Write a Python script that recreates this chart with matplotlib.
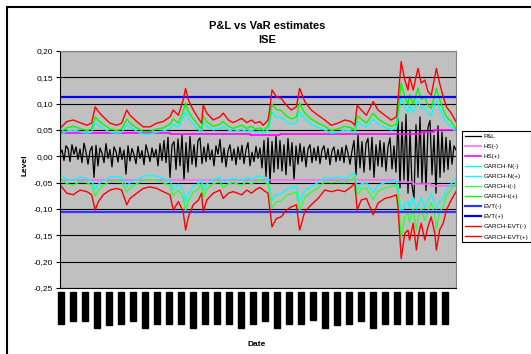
import numpy as np
import matplotlib.pyplot as plt
from matplotlib.patches import Rectangle
from matplotlib.ticker import FuncFormatter

plt.rcParams['font.family'] = ['Liberation Sans', 'DejaVu Sans']

# daily P&L, one value every 5 trading days (index 0..990)
pnl = [0.005, 0.012, -0.008, 0.020, 0.015, -0.010, 0.022, 0.004, 0.018, -0.006,
       0.014, -0.012, 0.025, 0.008, -0.015, 0.010, 0.019, -0.040, 0.021, -0.018,
       0.016, 0.006, -0.012, 0.024, -0.004, 0.013, -0.020, 0.018, 0.009, -0.011,
       0.017, -0.006, 0.012, -0.034, 0.020, -0.009, 0.015, 0.003, -0.014, 0.019,
       -0.004, 0.011, -0.016, 0.022, 0.007, -0.010, 0.016, -0.002, 0.013, -0.018,
       0.024, -0.008, 0.030, -0.012, 0.036, -0.040, 0.021, 0.028, -0.025, 0.033,
       -0.018, 0.040, -0.045, 0.026, -0.030, 0.038, -0.015, 0.022, -0.020, 0.030,
       0.035, -0.014, 0.018, -0.010, 0.024, -0.006, 0.012, -0.018, 0.020, 0.004,
       0.032, -0.012, 0.016, -0.020, 0.010, 0.022, -0.008, 0.014, -0.016, 0.018,
       -0.006, 0.021, -0.014, 0.012, 0.026, -0.018, 0.008, -0.010, 0.019, -0.004,
       0.016, -0.022, 0.030, -0.038, 0.035, -0.050, 0.028, -0.030, 0.038, -0.024,
       0.030, -0.028, 0.022, -0.035, 0.034, -0.018, 0.026, -0.045, 0.020, -0.015,
       0.024, -0.010, 0.018, -0.020, 0.014, 0.022, -0.012, 0.016, -0.008, 0.019,
       -0.014, 0.012, 0.020, -0.006, 0.015, -0.016, 0.010, 0.018, -0.010, 0.013,
       -0.008, 0.017, -0.012, 0.021, 0.006, -0.015, 0.010, 0.030, -0.035, 0.040,
       -0.022, 0.028, -0.030, 0.024, 0.034, -0.026, 0.036, -0.040, 0.022, -0.018,
       0.030, -0.020, 0.026, -0.028, 0.018, 0.035, -0.024, 0.020, -0.030, 0.072,
       -0.060, 0.065, -0.045, 0.080, -0.070, 0.050, -0.055, -0.080, 0.060, -0.040,
       0.075, -0.050, 0.045, -0.065, 0.055, 0.068, -0.035, 0.040, -0.070, 0.058,
       -0.040, 0.046, -0.030, 0.036, -0.025, 0.030, -0.015, 0.020, 0.012]
pnl_days = np.arange(0, 991, 5)

# model VaR estimates
var_days = [0, 17, 33, 50, 67, 79, 88, 96, 108, 125, 142, 154, 167, 175, 192, 208, 225,
            242, 258, 275, 283, 296, 308, 314, 321, 333, 346, 354, 358, 367, 383, 400,
            408, 421, 433, 454, 467, 479, 488, 500, 508, 520, 524, 530, 541, 553, 566,
            578, 591, 599, 612, 628, 645, 662, 678, 695, 712, 728, 737, 743, 753, 766,
            783, 795, 812, 828, 841, 845, 853, 862, 870, 874, 883, 891, 895, 903, 912,
            920, 928, 937, 941, 949, 958, 966, 978, 990]

gevt_pos = [0.053, 0.066, 0.069, 0.064, 0.059, 0.063, 0.094, 0.085, 0.075, 0.063,
            0.059, 0.063, 0.088, 0.078, 0.066, 0.056, 0.056, 0.063, 0.066, 0.075,
            0.088, 0.078, 0.107, 0.129, 0.107, 0.088, 0.072, 0.063, 0.097, 0.082,
            0.069, 0.075, 0.082, 0.069, 0.064, 0.072, 0.064, 0.069, 0.063, 0.066,
            0.059, 0.069, 0.088, 0.126, 0.113, 0.110, 0.097, 0.088, 0.094, 0.129,
            0.104, 0.088, 0.078, 0.069, 0.059, 0.063, 0.069, 0.066, 0.059, 0.097,
            0.088, 0.078, 0.104, 0.088, 0.078, 0.069, 0.075, 0.107, 0.180, 0.145,
            0.126, 0.151, 0.126, 0.154, 0.167, 0.139, 0.145, 0.123, 0.116, 0.151,
            0.167, 0.139, 0.113, 0.094, 0.082, 0.066]
gt_pos = [0.045, 0.054, 0.057, 0.053, 0.049, 0.052, 0.075, 0.068, 0.061, 0.052,
          0.049, 0.052, 0.071, 0.063, 0.054, 0.047, 0.047, 0.052, 0.054, 0.061,
          0.071, 0.063, 0.085, 0.101, 0.085, 0.071, 0.059, 0.052, 0.077, 0.066,
          0.057, 0.061, 0.066, 0.057, 0.053, 0.059, 0.053, 0.057, 0.052, 0.054,
          0.049, 0.057, 0.071, 0.099, 0.089, 0.087, 0.077, 0.071, 0.075, 0.101,
          0.082, 0.071, 0.063, 0.057, 0.049, 0.052, 0.057, 0.054, 0.049, 0.077,
          0.071, 0.063, 0.082, 0.071, 0.063, 0.057, 0.061, 0.085, 0.139, 0.113,
          0.099, 0.117, 0.099, 0.119, 0.129, 0.108, 0.113, 0.097, 0.091, 0.117,
          0.129, 0.108, 0.089, 0.075, 0.066, 0.052]
gn_pos = [0.040, 0.048, 0.050, 0.047, 0.044, 0.046, 0.064, 0.059, 0.053, 0.046,
          0.044, 0.046, 0.061, 0.055, 0.048, 0.042, 0.042, 0.046, 0.048, 0.053,
          0.061, 0.055, 0.072, 0.085, 0.072, 0.061, 0.051, 0.046, 0.066, 0.057,
          0.050, 0.053, 0.057, 0.050, 0.047, 0.051, 0.047, 0.050, 0.046, 0.048,
          0.044, 0.050, 0.061, 0.083, 0.075, 0.074, 0.066, 0.061, 0.064, 0.085,
          0.070, 0.061, 0.055, 0.050, 0.044, 0.046, 0.050, 0.048, 0.044, 0.066,
          0.061, 0.055, 0.070, 0.061, 0.055, 0.050, 0.053, 0.072, 0.115, 0.094,
          0.083, 0.098, 0.083, 0.100, 0.107, 0.091, 0.094, 0.081, 0.077, 0.098,
          0.107, 0.091, 0.075, 0.064, 0.057, 0.046]

gevt_neg = [-0.054, -0.070, -0.073, -0.064, -0.067, -0.073, -0.102, -0.086, -0.073, -0.064,
            -0.061, -0.064, -0.092, -0.080, -0.070, -0.061, -0.058, -0.061, -0.067, -0.073,
            -0.102, -0.086, -0.105, -0.140, -0.115, -0.092, -0.083, -0.070, -0.105, -0.083,
            -0.070, -0.064, -0.080, -0.070, -0.067, -0.073, -0.064, -0.070, -0.064, -0.059,
            -0.064, -0.070, -0.096, -0.134, -0.118, -0.115, -0.102, -0.096, -0.092, -0.140,
            -0.105, -0.092, -0.080, -0.064, -0.067, -0.064, -0.067, -0.058, -0.051, -0.102,
            -0.083, -0.080, -0.111, -0.089, -0.080, -0.077, -0.073, -0.096, -0.194, -0.146,
            -0.140, -0.159, -0.127, -0.178, -0.153, -0.127, -0.159, -0.134, -0.115, -0.146,
            -0.178, -0.140, -0.127, -0.102, -0.083, -0.067]
gt_neg = [-0.041, -0.052, -0.055, -0.048, -0.050, -0.055, -0.075, -0.064, -0.055, -0.048,
          -0.046, -0.048, -0.068, -0.060, -0.052, -0.046, -0.044, -0.046, -0.050, -0.055,
          -0.075, -0.064, -0.078, -0.103, -0.085, -0.068, -0.062, -0.052, -0.078, -0.062,
          -0.052, -0.048, -0.060, -0.052, -0.050, -0.055, -0.048, -0.052, -0.048, -0.044,
          -0.048, -0.052, -0.071, -0.098, -0.087, -0.085, -0.075, -0.071, -0.068, -0.103,
          -0.078, -0.068, -0.060, -0.048, -0.050, -0.048, -0.050, -0.044, -0.039, -0.075,
          -0.062, -0.060, -0.082, -0.066, -0.060, -0.057, -0.055, -0.071, -0.155, -0.115,
          -0.108, -0.125, -0.098, -0.140, -0.118, -0.098, -0.122, -0.102, -0.088, -0.112,
          -0.138, -0.106, -0.095, -0.075, -0.062, -0.050]
gn_neg = [-0.034, -0.044, -0.046, -0.040, -0.042, -0.046, -0.063, -0.053, -0.046, -0.040,
          -0.038, -0.040, -0.057, -0.050, -0.044, -0.038, -0.036, -0.038, -0.042, -0.046,
          -0.063, -0.053, -0.065, -0.086, -0.071, -0.057, -0.052, -0.044, -0.065, -0.052,
          -0.044, -0.040, -0.050, -0.044, -0.042, -0.046, -0.040, -0.044, -0.040, -0.037,
          -0.040, -0.044, -0.060, -0.083, -0.073, -0.071, -0.063, -0.060, -0.057, -0.086,
          -0.065, -0.057, -0.050, -0.040, -0.042, -0.040, -0.042, -0.036, -0.032, -0.063,
          -0.052, -0.050, -0.069, -0.055, -0.050, -0.048, -0.046, -0.060, -0.110, -0.090,
          -0.086, -0.098, -0.078, -0.100, -0.094, -0.078, -0.098, -0.083, -0.071, -0.090,
          -0.100, -0.086, -0.078, -0.063, -0.052, -0.042]

# historical simulation (piecewise constant)
hs_pos_days = [0, 275, 475, 550, 903, 935, 990]
hs_pos = [0.045, 0.043, 0.040, 0.042, 0.047, 0.050, 0.050]
hs_neg_days = [0, 838, 883, 928, 990]
hs_neg = [-0.045, -0.048, -0.053, -0.056, -0.056]

evt_pos = 0.113
evt_neg = -0.105

tick_days = np.arange(2.5, 990, 30)
tick_labels = ['2/13/2001', '5/8/2001', '8/1/2001', '10/24/2001', '1/17/2002',
               '4/12/2002', '7/5/2002', '10/10/2002', '1/14/2003', '4/10/2003',
               '7/10/2003', '10/16/2003', '1/27/2004', '5/10/2004', '8/19/2004',
               '12/13/2004', '3/30/2005', '7/8/2005', '10/18/2005', '1/27/2006',
               '5/10/2006', '8/8/2006', '11/16/2006', '2/27/2007', '6/11/2007',
               '9/7/2007', '12/14/2007', '3/28/2008', '7/10/2008', '10/9/2008',
               '1/22/2009', '5/12/2009', '8/20/2009']

fig = plt.figure(figsize=(5.31, 3.54), dpi=100)
ax = fig.add_axes([60/531, 1-288/354, 396/531, 237/354])
ax.set_facecolor('#c0c0c0')

ax.plot(pnl_days, pnl, color='black', lw=0.9, label='P&L')
ax.plot(hs_neg_days, hs_neg, color='#ff66ff', lw=1.2, drawstyle='steps-post', label='HS(-)')
ax.plot(hs_pos_days, hs_pos, color='#ff00ff', lw=1.2, drawstyle='steps-post', label='HS(+)')
ax.plot(var_days, gn_neg, color='#00ffff', lw=1.0, label='GARCH-N(-)')
ax.plot(var_days, gn_pos, color='#00ffff', lw=1.0, label='GARCH-N(+)')
ax.plot(var_days, gt_neg, color='#33ff33', lw=1.0, label='GARCH-t(-)')
ax.plot(var_days, gt_pos, color='#00ff00', lw=1.0, label='GARCH-t(+)')
ax.plot([0, 990], [evt_neg, evt_neg], color='#3333ff', lw=1.6, label='EVT(-)')
ax.plot([0, 990], [evt_pos, evt_pos], color='#0000ff', lw=1.6, label='EVT(+)')
ax.plot(var_days, gevt_neg, color='#ff0000', lw=1.0, label='GARCH-EVT(-)')
ax.plot(var_days, gevt_pos, color='#ff0000', lw=1.0, label='GARCH-EVT(+)')

ax.set_xlim(0, 990)
ax.set_ylim(-0.25, 0.20)
ax.set_yticks(np.arange(-0.25, 0.201, 0.05))
ax.yaxis.set_major_formatter(FuncFormatter(lambda v, p: f"{round(v, 2) + 0:.2f}".replace('.', ',')))
ax.grid(axis='y', color='black', lw=0.8)
ax.set_axisbelow(True)
ax.tick_params(axis='y', labelsize=6, length=3, width=0.8, pad=2)

# date labels printed as solid dark blocks
ax.set_xticks(tick_days)
ax.set_xticklabels(tick_labels, rotation=90, fontsize=4.3, family='DejaVu Sans')
ax.tick_params(axis='x', length=0, pad=3.6)
for lab in ax.get_xticklabels():
    lab.set_bbox(dict(facecolor='black', edgecolor='black', pad=0.5))

for side in ['top', 'right']:
    ax.spines[side].set_color('#808080')
for side in ['left', 'bottom']:
    ax.spines[side].set_color('black')

fig.text(267/531, 1-26/354, 'P&L vs VaR estimates', ha='center', va='center',
         fontsize=8, fontweight='bold')
fig.text(267/531, 1-40/354, 'ISE', ha='center', va='center', fontsize=8, fontweight='bold')
fig.text(25/531, 1-165/354, 'Level', rotation=90, ha='center', va='center',
         fontsize=6, fontweight='bold')
fig.text(257/531, 1-345/354, 'Date', ha='center', va='center', fontsize=6, fontweight='bold')

leg = fig.legend(loc='upper left', bbox_to_anchor=(462/531, 1-131/354), borderaxespad=0,
                 fontsize=4.5, handlelength=2.7, handletextpad=0.4, labelspacing=0.75,
                 borderpad=0.4, fancybox=False, framealpha=1, edgecolor='black')
leg.get_frame().set_linewidth(0.8)

# chart area border
top = 1 - 7/354
fig.patches.append(Rectangle((7/531, -0.1), 1.2, top + 0.1, transform=fig.transFigure,
                             fill=False, edgecolor='black', lw=1.5))

fig.savefig('out.png', dpi=100)
